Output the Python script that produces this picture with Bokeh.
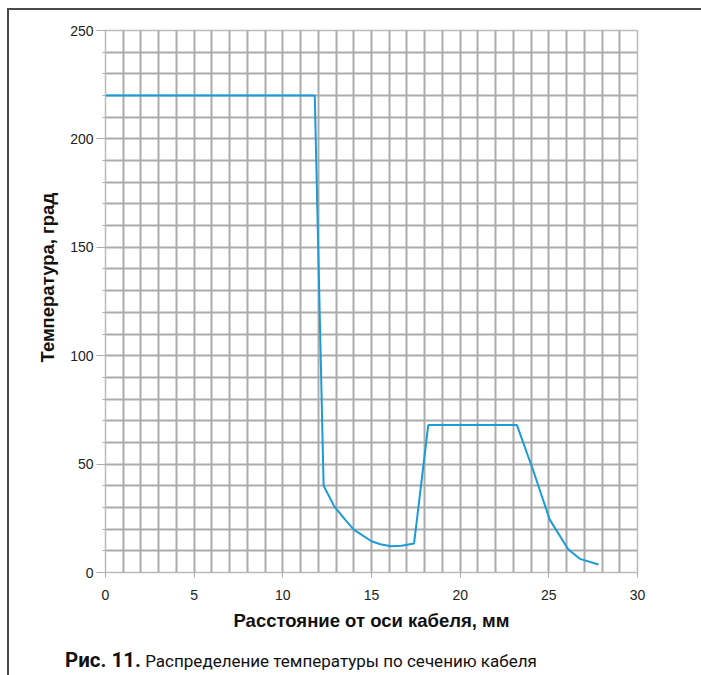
from bokeh.plotting import figure
from bokeh.models import Range1d, SingleIntervalTicker, Title, Div
from bokeh.layouts import column
from bokeh.embed import file_html
from bokeh.resources import INLINE

# distance from cable axis, mm
distance_mm = [0, 11.8, 12.3, 12.9, 13.5, 14.0, 15.0, 15.5, 16.1, 16.7, 17.4,
               18.2, 23.2, 24.1, 25.05, 26.1, 26.75, 27.8]
# temperature, degrees
temperature = [220, 220, 40, 30.5, 24.5, 19.8, 14.4, 13.0, 12.1, 12.3, 13.4,
               68, 68, 47.5, 24.4, 10.6, 6.3, 3.7]

x_ticks_major = 5
y_ticks_major = 50
x_label = "Расстояние от оси кабеля, мм"
y_label = "Температура, град"
caption_bold = "Рис. 11."
caption_text = "Распределение температуры по сечению кабеля"

p = figure(width=692, height=628, output_backend="svg", toolbar_location=None,
           x_range=Range1d(0, 30), y_range=Range1d(0, 250),
           min_border_left=96, min_border_right=64, min_border_top=20,
           min_border_bottom=66)
p.outline_line_color = "#bbbbbb"
p.outline_line_width = 1.5

grid_col = "#ababab"
p.xgrid.ticker = SingleIntervalTicker(interval=1)
p.ygrid.ticker = SingleIntervalTicker(interval=10)
p.xgrid.grid_line_color = grid_col
p.ygrid.grid_line_color = grid_col
p.xgrid.grid_line_width = 2
p.ygrid.grid_line_width = 2

p.xaxis.ticker = SingleIntervalTicker(interval=x_ticks_major, num_minor_ticks=0)
p.yaxis.ticker = SingleIntervalTicker(interval=y_ticks_major, num_minor_ticks=5)
for ax in (p.xaxis, p.yaxis):
    ax.axis_line_color = "#bbbbbb"
    ax.major_tick_line_color = "#aaaaaa"
    ax.minor_tick_line_color = "#aaaaaa"
    ax.major_tick_in = 0
    ax.minor_tick_in = 0
    ax.major_label_text_font = "Liberation Sans"
    ax.major_label_text_font_size = "14px"
    ax.major_label_text_color = "#222222"
p.yaxis.major_tick_out = 9
p.yaxis.minor_tick_out = 3
p.yaxis.major_label_standoff = 3
p.xaxis.major_tick_out = 5
p.xaxis.major_label_standoff = 12

p.xaxis.axis_label = x_label
p.xaxis.axis_label_text_font = "Liberation Sans"
p.xaxis.axis_label_text_font_style = "bold"
p.xaxis.axis_label_text_font_size = "18.5px"
p.xaxis.axis_label_text_color = "#111111"
p.xaxis.axis_label_standoff = 7

p.line(distance_mm, temperature, line_color="#1b9bd7", line_width=2)

ytitle = Title(text=y_label, align="left", offset=210, standoff=19,
               text_font="Liberation Sans", text_font_style="bold",
               text_font_size="18.5px", text_color="#111111")
p.add_layout(ytitle, "left")

cap = Div(text=f"<b style='font-size:20.5px'>{caption_bold}</b> {caption_text}",
          width=692, height=37,
          styles={"font-family": "Roboto", "font-size": "17px", "color": "#111111",
                  "padding-left": "51px", "margin-top": "8px", "white-space": "nowrap"})

layout = column(p, cap, spacing=0,
                styles={"margin-left": "7px", "margin-top": "8px",
                        "border-left": "2px solid #4a4a4a",
                        "border-top": "2px solid #4a4a4a"})

open("out.html", "w").write(file_html(layout, INLINE))
